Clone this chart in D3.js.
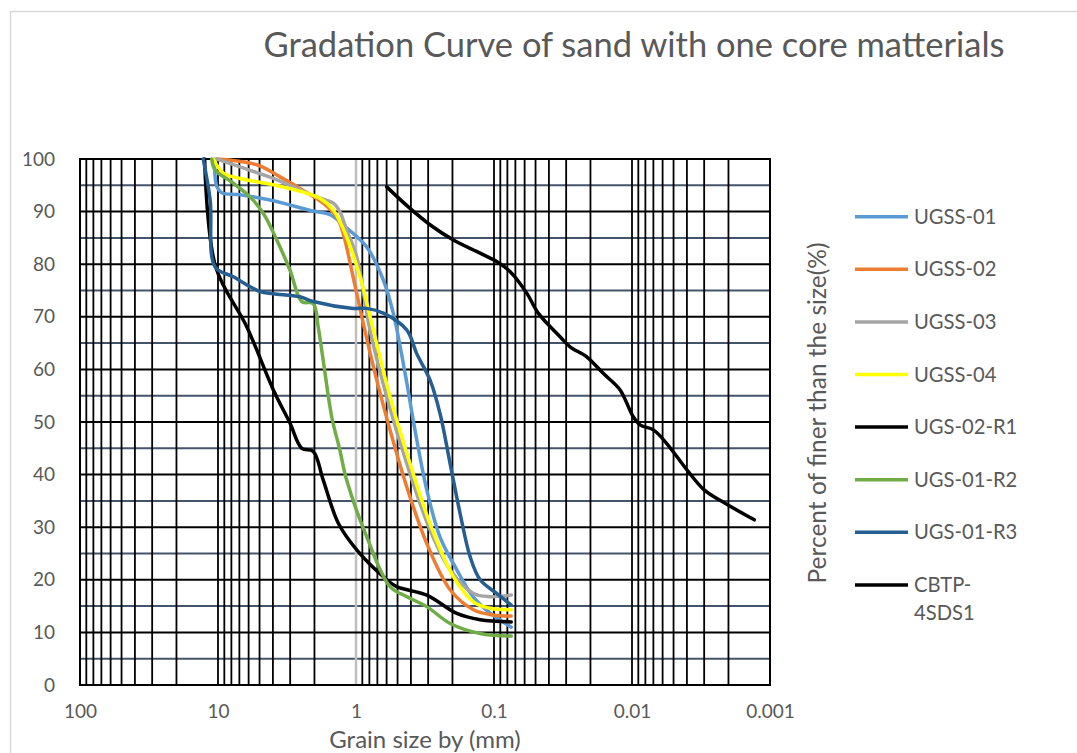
<!DOCTYPE html>
<html>
<head>
<meta charset="utf-8">
<script src="https://cdn.jsdelivr.net/npm/d3@7"></script>
<style>
  html, body { margin: 0; padding: 0; background: #ffffff; }
  svg { display: block; font-family: Lato, "Open Sans", sans-serif; }
</style>
</head>
<body>
<svg id="chart" width="1077" height="753"></svg>
<script>
// Grain sizes (mm) and percent passing for each sample
const sizesUGSS01 = [10.6, 10.2, 9.4, 6.93, 4.2, 2.04, 1.54, 1.17, 0.837, 0.634, 0.537, 0.441, 0.374, 0.307, 0.246, 0.186, 0.141, 0.107, 0.075];
const pctUGSS01   = [100, 94.8, 93.6, 93.2, 92.2, 90.1, 89.4, 86.9, 83.3, 77, 70.7, 59.3, 48.5, 37.1, 28.1, 21.9, 16.7, 13.7, 11.0];

const sizesUGSS02 = [10.2, 5.24, 3.55, 2.55, 1.73, 1.38, 1.24, 1.05, 0.885, 0.708, 0.567, 0.429, 0.307, 0.208, 0.141, 0.101, 0.075];
const pctUGSS02   = [100, 98.9, 96.6, 94.4, 91.6, 89, 85.9, 77.6, 68.7, 58, 48.5, 37.7, 26.9, 18.1, 14.3, 13.3, 13.1];

const sizesUGSS03 = [10.2, 6.93, 3.97, 2.69, 1.93, 1.46, 1.31, 1.17, 0.988, 0.792, 0.599, 0.429, 0.291, 0.208, 0.141, 0.107, 0.075];
const pctUGSS03   = [100, 98.5, 96.3, 94.4, 92.8, 91.6, 90, 86.5, 81.4, 67.5, 54.8, 42.1, 29.5, 21.9, 17.4, 16.8, 17.1];

const sizesUGSS04 = [10.8, 9.15, 6.93, 3.97, 2.28, 1.82, 1.46, 1.17, 0.935, 0.749, 0.567, 0.406, 0.291, 0.197, 0.141, 0.107, 0.075];
const pctUGSS04   = [100, 97.3, 96.3, 95.1, 93.5, 92.5, 90.3, 85.2, 77.6, 67.5, 54.8, 42.1, 30.7, 20.6, 15.8, 14.6, 14.3];

const sizesR1 = [12.5, 10.4, 6.19, 3.97, 3.01, 2.47, 2.04, 1.73, 1.34, 0.988, 0.634, 0.507, 0.307, 0.186, 0.126, 0.075];
const pctR1   = [100, 79.5, 68.1, 56.1, 49.8, 45, 44.4, 39, 30.7, 25.7, 20.6, 18.7, 17.1, 13.6, 12.4, 12.0];

const sizesR2 = [11.1, 10.5, 7.74, 5.86, 4.70, 3.75, 3.01, 2.47, 2.04, 1.88, 1.73, 1.50, 1.31, 1.17, 0.837, 0.567, 0.429, 0.307, 0.208, 0.126, 0.075];
const pctR2   = [100, 97.9, 95.4, 92.8, 89.7, 84.6, 78.9, 72.9, 72.5, 68.1, 61.8, 51, 44.7, 39, 28.2, 18.7, 16.8, 14.9, 11.7, 9.8, 9.3];

const sizesR3 = [12.8, 11.4, 10.5, 7.74, 4.96, 3.97, 2.55, 2.04, 1.05, 0.837, 0.634, 0.429, 0.363, 0.291, 0.246, 0.208, 0.176, 0.149, 0.126, 0.0956, 0.075];
const pctR3   = [100, 92.2, 79.5, 77.6, 74.8, 74.4, 73.8, 72.9, 71.6, 71.6, 70.7, 67.5, 63, 58, 51.6, 42.1, 32.6, 24.4, 20, 17.4, 15.2];

const sizesCBTP = [0.599, 0.406, 0.291, 0.197, 0.126, 0.0956, 0.0766, 0.0579, 0.0478, 0.0332, 0.0281, 0.0213, 0.0161, 0.0122, 0.0098, 0.0087, 0.0070, 0.0056, 0.0040, 0.0030, 0.0021, 0.0013];
const pctCBTP   = [94.7, 90.6, 87.5, 84.6, 82.1, 80.5, 78.6, 74.5, 70.7, 66.2, 64.3, 62.4, 59.2, 56.1, 51, 49.4, 48.5, 45.9, 40.9, 37.1, 34.5, 31.4];

const seriesNames  = ["UGSS-01", "UGSS-02", "UGSS-03", "UGSS-04", "UGS-02-R1", "UGS-01-R2", "UGS-01-R3", "CBTP-4SDS1"];
const seriesColors = ["#5B9BD5", "#ED7D31", "#A5A5A5", "#FFFF00", "#000000", "#70AD47", "#255E91", "#000000"];
const seriesSizes  = [sizesUGSS01, sizesUGSS02, sizesUGSS03, sizesUGSS04, sizesR1, sizesR2, sizesR3, sizesCBTP];
const seriesPcts   = [pctUGSS01, pctUGSS02, pctUGSS03, pctUGSS04, pctR1, pctR2, pctR3, pctCBTP];

const xTickValues = [100, 10, 1, 0.1, 0.01, 0.001];
const xTickLabels = ["100", "10", "1", "0.1", "0.01", "0.001"];
const yTickValues = [0, 10, 20, 30, 40, 50, 60, 70, 80, 90, 100];

const svg = d3.select("#chart");
const textColor = "#595959";

// chart frame
svg.append("path")
  .attr("d", "M10.5,753 V11.5 H1077")
  .attr("fill", "none").attr("stroke", "#D9D9D9").attr("stroke-width", 1.5);

// plot area
const plotLeft = 80, plotRight = 770, plotTop = 159, plotBottom = 685;
const x = d3.scaleLog().domain([100, 0.001]).range([plotLeft, plotRight]);
const y = d3.scaleLinear().domain([0, 100]).range([plotBottom, plotTop]);

const grid = svg.append("g");

// minor horizontal gridlines (every 5 %)
const minorY = d3.range(5, 100, 10);
grid.selectAll("line.minorY").data(minorY).join("line")
  .attr("x1", plotLeft).attr("x2", plotRight)
  .attr("y1", d => y(d)).attr("y2", d => y(d))
  .attr("stroke", "#44546A").attr("stroke-width", 2);

// vertical log gridlines
const isOne = d => Math.abs(d - 1) < 1e-9;
const vTicks = x.ticks().filter(d => d < 100 && d > 0.001);
grid.selectAll("line.v").data(vTicks).join("line")
  .attr("x1", d => x(d)).attr("x2", d => x(d))
  .attr("y1", plotTop).attr("y2", plotBottom)
  .attr("stroke", d => isOne(d) ? "#BFBFBF" : "#000000")
  .attr("stroke-width", d => isOne(d) ? 2.5 : 1.8);

// major horizontal gridlines
grid.selectAll("line.majorY").data(yTickValues).join("line")
  .attr("x1", plotLeft).attr("x2", plotRight)
  .attr("y1", d => y(d)).attr("y2", d => y(d))
  .attr("stroke", "#000000").attr("stroke-width", 2);

// plot border
grid.append("rect")
  .attr("x", plotLeft).attr("y", plotTop)
  .attr("width", plotRight - plotLeft).attr("height", plotBottom - plotTop)
  .attr("fill", "none").attr("stroke", "#000000").attr("stroke-width", 2);

// axes
const xAxis = d3.axisBottom(x).tickValues(xTickValues)
  .tickFormat((d, i) => xTickLabels[i]).tickSize(0).tickPadding(20);
const gx = svg.append("g").attr("transform", `translate(0,${plotBottom})`).call(xAxis);
gx.select(".domain").remove();
gx.selectAll("text").attr("fill", textColor).style("font-size", "19px").style("font-family", "Lato, sans-serif");

const yAxis = d3.axisLeft(y).tickValues(yTickValues).tickSize(0).tickPadding(25);
const gy = svg.append("g").attr("transform", `translate(${plotLeft},0)`).call(yAxis);
gy.select(".domain").remove();
gy.selectAll("text").attr("fill", textColor).style("font-size", "19px").style("font-family", "Lato, sans-serif");

// series lines
const line = d3.line()
  .x(d => x(d[0])).y(d => y(d[1]))
  .curve(d3.curveCatmullRom.alpha(0.5));

seriesNames.forEach((name, i) => {
  const pts = seriesSizes[i].map((s, j) => [s, seriesPcts[i][j]]);
  svg.append("path")
    .datum(pts)
    .attr("d", line)
    .attr("fill", "none")
    .attr("stroke", seriesColors[i])
    .attr("stroke-width", 3.5)
    .attr("stroke-linejoin", "round")
    .attr("stroke-linecap", "round");
});

// title
svg.append("text")
  .attr("x", 634).attr("y", 57)
  .attr("text-anchor", "middle")
  .attr("fill", textColor)
  .style("font-size", "34.5px")
  .text("Gradation Curve of sand with one core matterials");

// axis titles
svg.append("text")
  .attr("x", (plotLeft + plotRight) / 2).attr("y", 747.5)
  .attr("text-anchor", "middle")
  .attr("fill", textColor)
  .style("font-size", "24px")
  .text("Grain size by (mm)");

svg.append("text")
  .attr("transform", "translate(826,413) rotate(-90)")
  .attr("text-anchor", "middle")
  .attr("fill", textColor)
  .style("font-size", "24.5px")
  .text("Percent of finer than the size(%)");

// legend
const legend = svg.append("g");
const legendY0 = 216.7, legendStep = 52.6, legendFont = "20.2px";
seriesNames.forEach((name, i) => {
  const ly = legendY0 + i * legendStep;
  legend.append("line")
    .attr("x1", 855).attr("x2", 908)
    .attr("y1", ly).attr("y2", ly)
    .attr("stroke", seriesColors[i]).attr("stroke-width", 3.5);
  const t = legend.append("text")
    .attr("x", 914).attr("y", ly + 7)
    .attr("fill", textColor)
    .style("font-size", legendFont);
  if (name === "CBTP-4SDS1") {
    t.text("CBTP-");
    legend.append("text")
      .attr("x", 914).attr("y", ly + 7 + 28)
      .attr("fill", textColor)
      .style("font-size", legendFont)
      .text("4SDS1");
  } else {
    t.text(name);
  }
});
</script>
</body>
</html>
